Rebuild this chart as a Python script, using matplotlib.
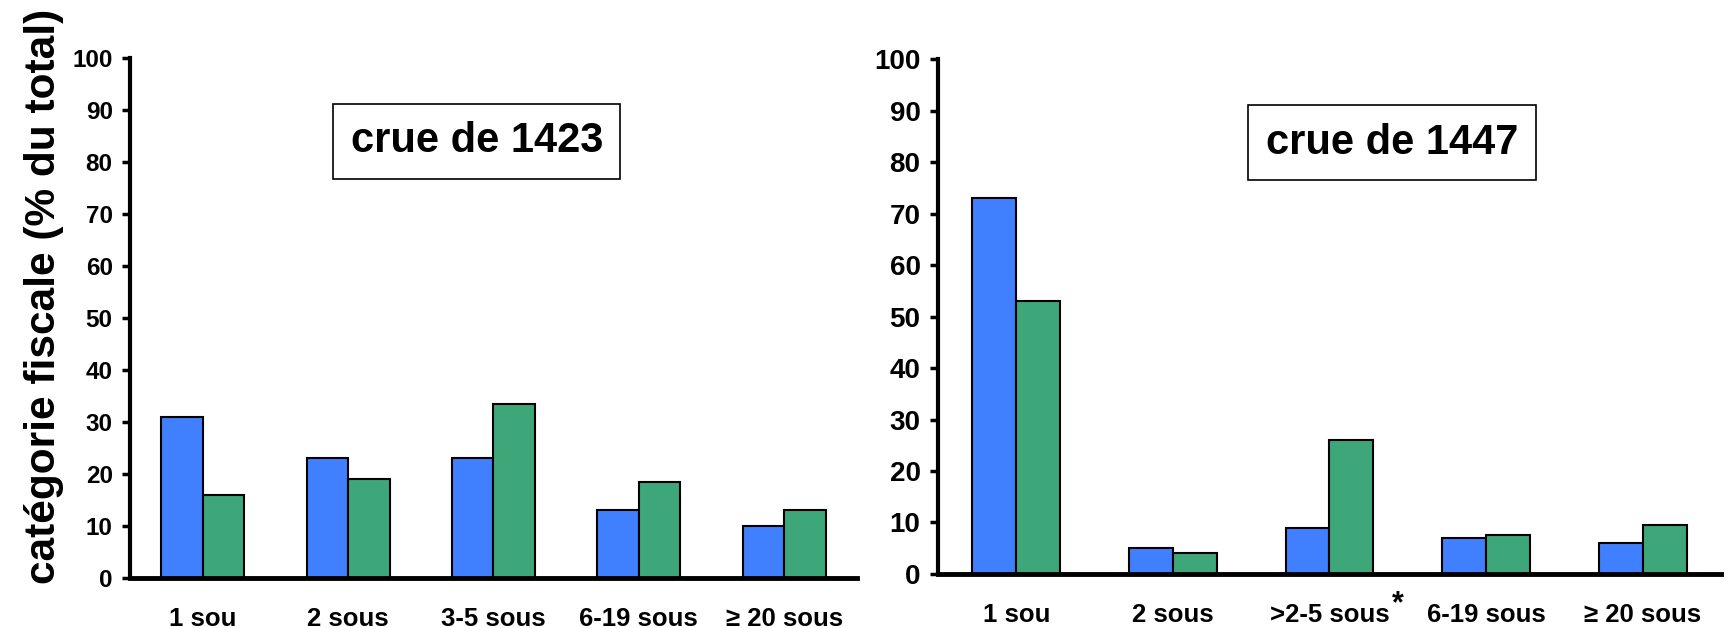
import numpy as np
import matplotlib.pyplot as plt

plt.rcParams['font.family'] = ['Liberation Sans', 'DejaVu Sans']
plt.rcParams['font.weight'] = 'bold'

cats_1423 = ["1 sou", "2 sous", "3-5 sous", "6-19 sous", "≥ 20 sous"]
blue_1423 = [31, 23, 23, 13, 10]
green_1423 = [16, 19, 33.5, 18.5, 13]

cats_1447 = ["1 sou", "2 sous", ">2-5 sous", "6-19 sous", "≥ 20 sous"]
blue_1447 = [73, 5, 9, 7, 6]
green_1447 = [53, 4, 26, 7.5, 9.5]

BLUE = "#4080FE"
GREEN = "#3DA77A"

fig = plt.figure(figsize=(17.27, 6.28), dpi=100)
ax1 = fig.add_axes([0.0753, 0.0796, 0.4209, 0.828])
ax2 = fig.add_axes([0.5431, 0.086, 0.4534, 0.820])

def draw(ax, cats, b, g, title, bw, tx, ty, ysize):
    x = np.arange(len(cats))
    ax.bar(x - bw / 2, b, bw, color=BLUE, edgecolor="black", linewidth=1.5)
    ax.bar(x + bw / 2, g, bw, color=GREEN, edgecolor="black", linewidth=1.5)
    ax.set_xlim(-0.5, len(cats) - 0.5)
    ax.set_ylim(0, 100)
    ax.set_yticks(range(0, 101, 10))
    ax.set_xticks(x)
    ax.set_xticklabels(cats, fontsize=18.5, fontweight="bold")
    for lab in ax.get_yticklabels():
        lab.set_fontsize(ysize)
        lab.set_fontweight("bold")
    ax.tick_params(axis="x", length=0, pad=21)
    ax.tick_params(axis="y", length=5.5, width=2.5, pad=7)
    for s in ["top", "right"]:
        ax.spines[s].set_visible(False)
    ax.spines["left"].set_linewidth(3)
    ax.spines["bottom"].set_linewidth(3.5)
    ax.text(tx, ty, title, transform=ax.transAxes, ha="center", va="center",
            fontsize=30, fontweight="bold",
            bbox=dict(boxstyle="square,pad=0.42", facecolor="white",
                      edgecolor="black", linewidth=1.2))

draw(ax1, cats_1423, blue_1423, green_1423, "crue de 1423", 0.285, 0.477, 0.84, 17.5)
draw(ax2, cats_1447, blue_1447, green_1447, "crue de 1447", 0.28, 0.58, 0.837, 20)

# asterisk after ">2-5 sous", raised like a superscript
ax2.annotate("*", xy=(2, 0), xycoords=ax2.get_xaxis_transform(),
             xytext=(45, -11), textcoords="offset points",
             ha="left", va="top", fontsize=22, fontweight="bold")

fig.text(44 / 1727, 1 - 296 / 628, "catégorie fiscale (% du total)",
         rotation=90, ha="center", va="center", fontsize=30.5, fontweight="bold")

fig.savefig("out.png", dpi=100)
